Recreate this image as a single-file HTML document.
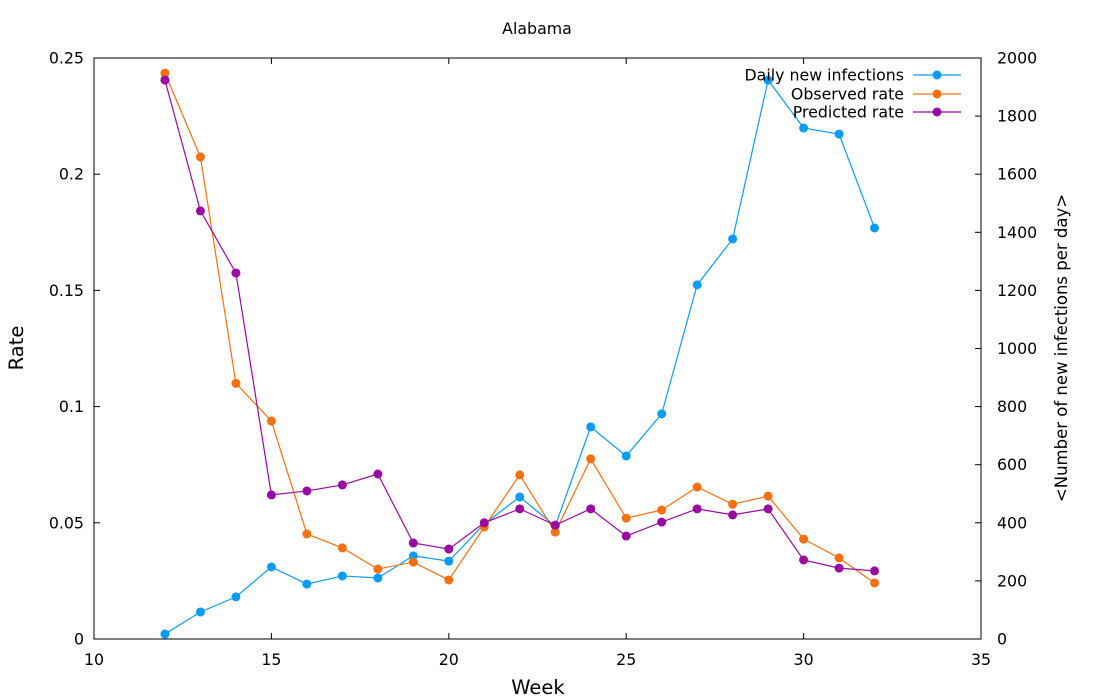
<!DOCTYPE html>
<html><head><meta charset="utf-8"><style>
body{margin:0;background:#fff}
svg{display:block;font-family:"DejaVu Sans","Liberation Sans",sans-serif}
</style></head><body>
<svg id="chart" width="1100" height="700" xmlns="http://www.w3.org/2000/svg">
<g id="axes"></g><g id="series"></g><g id="legend"></g>
</svg>
<script>
const weeks=[12,13,14,15,16,17,18,19,20,21,22,23,24,25,26,27,28,29,30,31,32];
const dailyNew=[17,93,145,248,189,217,210,286,268,396,489,389,730,630,775,1219,1377,1924,1759,1738,1415];
const observedRate=[0.2435,0.2074,0.110,0.0938,0.0452,0.0392,0.0301,0.0331,0.0254,0.0482,0.0706,0.046,0.0775,0.052,0.0555,0.0654,0.058,0.0615,0.043,0.0349,0.0241];
const predictedRate=[0.2405,0.1842,0.1575,0.062,0.0637,0.0663,0.071,0.0413,0.0387,0.05,0.056,0.049,0.056,0.0443,0.0503,0.056,0.0534,0.056,0.034,0.0305,0.0293];
const xTicks=[10,15,20,25,30,35];
const yTicks=[0,0.05,0.1,0.15,0.2,0.25];
const yTickLabels=["0","0.05","0.1","0.15","0.2","0.25"];
const y2Ticks=[0,200,400,600,800,1000,1200,1400,1600,1800,2000];

const L=94,R=981,T=58,B=639;
const FS=15.8;
const xs=v=>L+(v-10)/25*(R-L);
const ys=v=>B-v/0.25*(B-T);
const y2s=v=>B-v/2000*(B-T);
const NS="http://www.w3.org/2000/svg";
function mk(tag,attrs,parent,text){const e=document.createElementNS(NS,tag);for(const k in attrs)e.setAttribute(k,attrs[k]);if(text!==undefined)e.textContent=text;parent.appendChild(e);return e;}
const axes=document.getElementById('axes');
const frame=mk('rect',{x:L,y:T,width:R-L,height:B-T,fill:'none',stroke:'#000','stroke-width':1},axes);


xTicks.forEach(v=>{
  const x=xs(v);
  mk('line',{x1:x,y1:B,x2:x,y2:B-6,stroke:'#000'},axes);
  mk('line',{x1:x,y1:T,x2:x,y2:T+6,stroke:'#000'},axes);
  const t=mk('text',{x:x,y:B+26,'text-anchor':'middle','font-size':FS},axes,String(v));
  
  
});
yTicks.forEach((v,i)=>{
  const y=ys(v);
  mk('line',{x1:L,y1:y,x2:L+6,y2:y,stroke:'#000'},axes);
  const t=mk('text',{x:L-10,y:y+5.5,'text-anchor':'end','font-size':FS},axes,yTickLabels[i]);
  
  
});
y2Ticks.forEach(v=>{
  const y=y2s(v);
  mk('line',{x1:R,y1:y,x2:R-6,y2:y,stroke:'#000'},axes);
  const t=mk('text',{x:R+16,y:y+5.5,'text-anchor':'start','font-size':FS},axes,String(v));
  
  
});
let t;
t=mk('text',{x:537,y:34,'text-anchor':'middle','font-size':FS},axes,'Alabama');


t=mk('text',{x:538,y:694,'text-anchor':'middle','font-size':19.5},axes,'Week');


t=mk('text',{x:0,y:0,'text-anchor':'middle','font-size':19.5,transform:'translate(23,348) rotate(-90)'},axes,'Rate');


t=mk('text',{x:0,y:0,'text-anchor':'middle','font-size':16.5,transform:'translate(1067,348) rotate(-90)'},axes,'<Number of new infections per day>');



const ser=document.getElementById('series');
function drawSeries(vals,scale,color,name){
  const g=mk('g',{},ser);
  
  
  const pts=weeks.map((w,i)=>xs(w)+','+scale(vals[i])).join(' ');
  mk('polyline',{points:pts,fill:'none',stroke:color,'stroke-width':1.2},g);
  weeks.forEach((w,i)=>{
    const c=mk('circle',{cx:xs(w),cy:scale(vals[i]),r:4.5,fill:color},g);
    
    
  });
}
drawSeries(dailyNew,y2s,'#0a9cf3','daily-new-infections');
drawSeries(observedRate,ys,'#f5700e','observed-rate');
drawSeries(predictedRate,ys,'#980aa0','predicted-rate');

const leg=document.getElementById('legend');
[['Daily new infections','#0a9cf3',75],['Observed rate','#f5700e',94],['Predicted rate','#980aa0',112]].forEach(([lab,col,y])=>{
  const g=mk('g',{},leg);
  
  
  mk('text',{x:904,y:y+5.5,'text-anchor':'end','font-size':FS},g,lab);
  mk('line',{x1:913,y1:y,x2:961,y2:y,stroke:col,'stroke-width':1.2},g);
  mk('circle',{cx:937,cy:y,r:4.5,fill:col},g);
});
</script>
</body></html>
